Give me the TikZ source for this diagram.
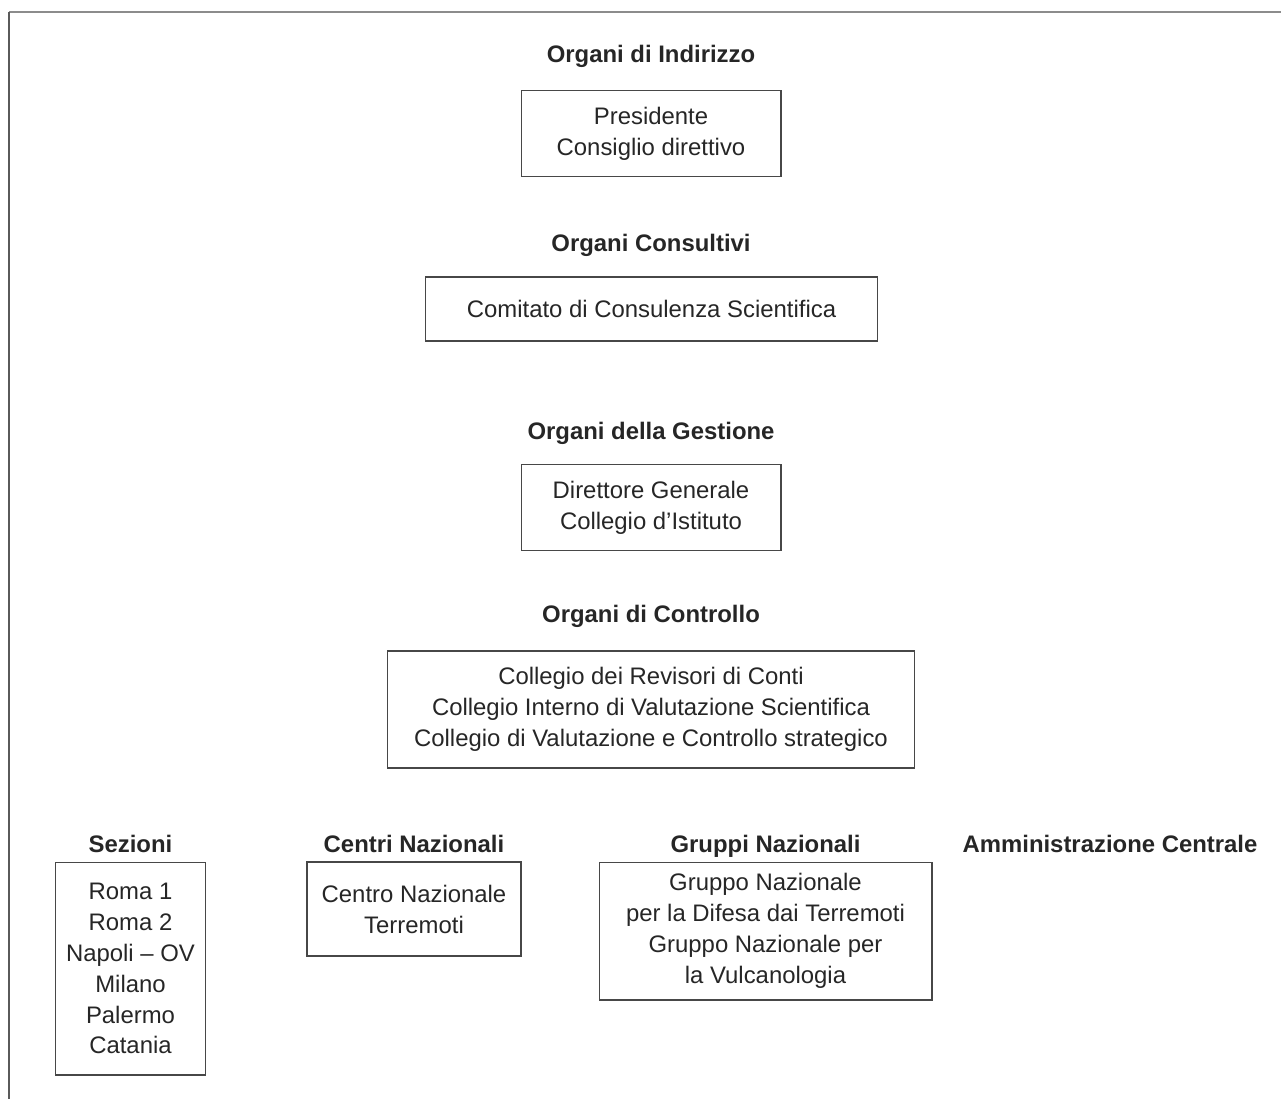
\documentclass[tikz,border=0pt]{standalone}
\usepackage{fontspec}
\setmainfont{Liberation Sans}
\usepackage{tikz}
\usetikzlibrary{positioning}
\definecolor{framegray}{HTML}{8C8C8C}
\definecolor{sidegray}{HTML}{5A5A5A}
\definecolor{boxgray}{HTML}{474747}
\definecolor{txtgray}{HTML}{262626}
\newcommand{\orgfont}{\fontsize{13.6}{17.6}\selectfont}

\begin{document}
\begin{tikzpicture}[
x=0.02cm,y=-0.02cm,
hdr/.style={anchor=base,inner sep=0pt,font=\orgfont\bfseries,text=txtgray},
ent/.style={draw=boxgray,line width=0.6pt,align=center,inner sep=0pt,
font=\orgfont,text=txtgray},
]
\useasboundingbox (0,0) rectangle (1281,1099);
% frame
\draw[framegray,line width=1pt] (9,12) -- (1281,12);
\draw[sidegray,line width=0.6pt] (9,12) -- (9,1099);

% central column
\node[hdr] (hind) at (651,62) {Organi di Indirizzo};
\node[ent,minimum width=5.2cm,minimum height=1.72cm] (pres) at (651,133.5)
{Presidente\\Consiglio direttivo};
\node[hdr] (hcons) at (651,251) {Organi Consultivi};
\node[ent,minimum width=9.06cm,minimum height=1.28cm] (comit) at (651.5,309)
{Comitato di Consulenza Scientifica};
\node[hdr] (hgest) at (651,439) {Organi della Gestione};
\node[ent,minimum width=5.2cm,minimum height=1.72cm] (dirg) at (651,507.5)
{Direttore Generale\\Collegio d’Istituto};
\node[hdr] (hcontr) at (651,622) {Organi di Controllo};
\node[ent,minimum width=10.56cm,minimum height=2.34cm] (coll) at (651,709.5)
{Collegio dei Revisori di Conti\\Collegio Interno di Valutazione Scientifica\\
Collegio di Valutazione e Controllo strategico};

% bottom row
\node[hdr] (hsez) at (130.5,852) {Sezioni};
\node[ent,minimum width=3cm,minimum height=4.26cm] (sez) at (130.5,968.5)
{Roma 1\\Roma 2\\Napoli – OV\\Milano\\Palermo\\Catania};
\node[hdr] (hcen) at (414,852) {Centri Nazionali};
\node[ent,minimum width=4.28cm,minimum height=1.88cm] (cen) at (414,909)
{Centro Nazionale\\Terremoti};
\node[hdr] (hgru) at (765.5,852) {Gruppi Nazionali};
\node[ent,minimum width=6.66cm,minimum height=2.76cm] (gru) at (765.5,931)
{Gruppo Nazionale\\per la Difesa dai Terremoti\\Gruppo Nazionale per\\la Vulcanologia};
\node[hdr] (hamm) at (1110,852) {Amministrazione Centrale};
\end{tikzpicture}
\end{document}
